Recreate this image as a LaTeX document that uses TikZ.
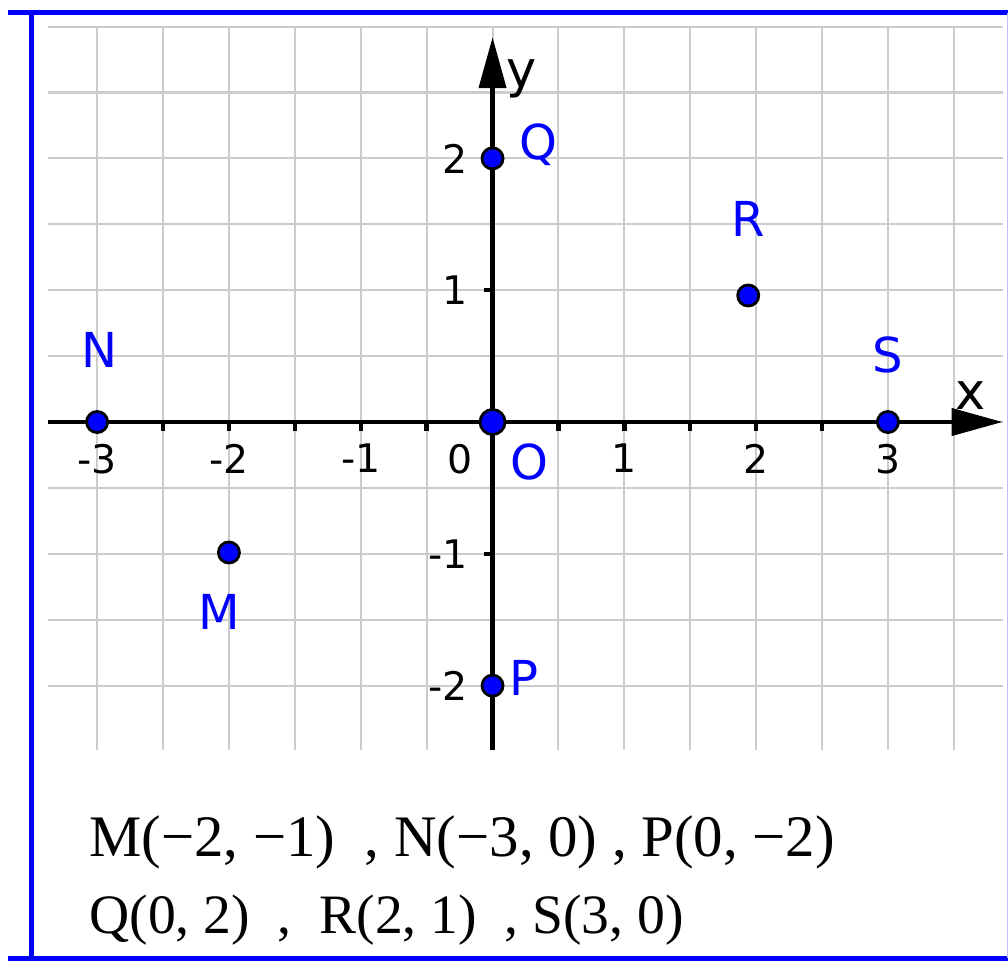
\documentclass[tikz,border=0pt]{standalone}
\usepackage{fontspec}
\setmainfont{Liberation Serif}
\newfontfamily\ggbfont{DejaVu Sans}
\usetikzlibrary{arrows.meta}
\definecolor{ggbblue}{HTML}{0000FF}
\definecolor{gridgray}{HTML}{CCCCCC}

\begin{document}
\begin{tikzpicture}[
  gridline/.style={gridgray, line width=0.45pt},
  axis/.style={line width=0.95pt, -{Triangle[length=11pt, width=5.8pt]}},
  tickmark/.style={line width=0.95pt},
  pt/.style={circle, draw=black, fill=ggbblue, line width=0.6pt,
    inner sep=0pt, minimum size=0.16cm},
  ptlabel/.style={font=\ggbfont\fontsize{10.4}{12}\selectfont, text=ggbblue, inner sep=0pt},
  axlabel/.style={font=\ggbfont\fontsize{11}{13}\selectfont, inner sep=0pt},
  num/.style={font=\ggbfont\fontsize{8.5}{10}\selectfont, inner sep=0pt},
  frameline/.style={ggbblue, line width=1.1pt},
  coordtext/.style={font=\fontsize{12.7}{15}\selectfont, inner sep=0pt, anchor=base west}
]
  \useasboundingbox (-3.737,-4.150) rectangle (3.911,3.202);

  % frame
  \draw[frameline] (-3.674,3.107) -- (3.911,3.107);
  \draw[frameline] (-3.674,-4.067) -- (3.911,-4.067);
  \draw[frameline] (-3.501,3.107) -- (-3.501,-4.067);
  \draw[ggbblue!25, line width=0.3pt] (3.905,3.107) -- (3.905,-4.067);

  % grid
  \foreach \y in {-2,-1.5,...,3}
    \draw[gridline] (-3.37,\y) -- (3.87,\y);
  \foreach \x in {-3,-2.5,...,3.5}
    \draw[gridline] (\x,-2.49) -- (\x,3);

  % axes
  \coordinate (xl) at (-3.37,0);
  \coordinate (xr) at (3.87,0);
  \coordinate (yb) at (0,-2.49);
  \coordinate (yt) at (0,2.92);
  \draw[axis] (xl) -- (xr);
  \draw[axis] (yb) -- (yt);
  \node[axlabel] (xlab) at (3.63,0.20) {x};
  \node[axlabel] (ylab) at (0.22,2.60) {y};

  \foreach \x in {-3,-2.5,...,-0.5,0.5,1,...,3}
    \draw[tickmark] (\x,0) -- (\x,-0.065);
  \foreach \y in {-2,-1,1,2}
    \draw[tickmark] (0,\y) -- (-0.065,\y);

  \foreach \x in {-3,-2,-1,1,2,3}
    \node[num, anchor=north] at (\x,-0.16) {\x};
  \node[num, anchor=north] (zero) at (-0.25,-0.16) {0};
  \foreach \y in {-2,-1,1,2}
    \node[num, anchor=east] at (-0.18,\y) {\y};

  % points
  \node[pt] (M) at (-2,-0.99) {};
  \node[pt] (N) at (-3,0) {};
  \node[pt] (P) at (0,-2) {};
  \node[pt] (Q) at (0,2) {};
  \node[pt] (R) at (1.94,0.96) {};
  \node[pt] (S) at (3,0) {};
  \node[pt, minimum size=0.19cm] (O) at (0,0) {};

  \node[ptlabel] (labM) at (-2.07,-1.44) {M};
  \node[ptlabel] (labN) at (-2.98,0.55) {N};
  \node[ptlabel] (labP) at (0.24,-1.94) {P};
  \node[ptlabel] (labQ) at (0.35,2.10) {Q};
  \node[ptlabel] (labR) at (1.94,1.54) {R};
  \node[ptlabel] (labS) at (3.0,0.51) {S};
  \node[ptlabel] (labO) at (0.28,-0.30) {O};

  % coordinates list
  \node[coordtext] (line1) at (-3.065,-3.300) {M(−2, −1)\ \ , N(−3, 0) , P(0, −2)};
  \node[coordtext, font=\fontsize{12}{14}\selectfont] (line2) at (-3.065,-3.877)
    {Q(0, 2)\ \ ,\ \ R(2, 1)\ \ , S(3, 0)};
\end{tikzpicture}
\end{document}
